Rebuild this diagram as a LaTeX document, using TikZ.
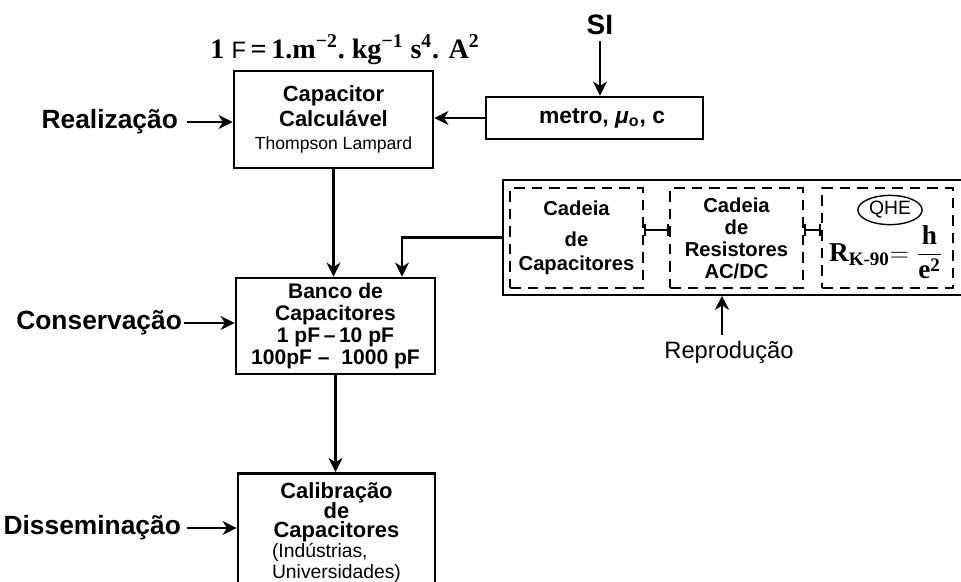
\documentclass[tikz,border=0pt]{standalone}
\usepackage{amsmath}
\usepackage{fontspec}
\setmainfont{Liberation Sans}
\newfontfamily\frm{Liberation Serif}
\newfontfamily\sns{Liberation Sans}
\usetikzlibrary{arrows.meta,shapes.geometric,positioning}

\begin{document}
\begin{tikzpicture}[x=0.02cm, y=-0.02cm,
    blk/.style={draw, line width=1.6pt, align=center, inner sep=2pt, font=\bfseries\fontsize{12.5}{14}\selectfont},
    dblk/.style={draw, line width=1.5pt, dash pattern=on 6pt off 4pt, align=center, inner sep=2pt, minimum height=2cm, font=\bfseries\fontsize{11.5}{12.5}\selectfont},
    arr/.style={-{Stealth[length=8pt, width=8pt, inset=2.5pt]}, line width=1.2pt},
    tie/.style={{Bar[width=7pt]}-{Bar[width=7pt]}, line width=1.2pt},
    lbl/.style={font=\bfseries\fontsize{15}{17}\selectfont, inner sep=1pt}
]
\useasboundingbox (0,0) rectangle (961,582);
\clip (0,0) rectangle (961,582);

% left column
\node[blk, minimum width=3.98cm, minimum height=1.94cm] (calc) at (333.5,119.5)
  {Capacitor\\Calculável\\[-1pt]{\mdseries\fontsize{10}{12}\selectfont Thompson Lampard}};
\node[blk, minimum width=3.98cm, minimum height=1.92cm, font=\bfseries\fontsize{12}{12.5}\selectfont] (banco) at (335.5,326)
  {Banco de\\Capacitores\\1 pF\,–\,10 pF\\100pF –\ \ 1000 pF};
\node[blk, anchor=north, minimum width=3.94cm, inner ysep=5pt, font=\bfseries\fontsize{12.5}{12.5}\selectfont] (calib) at (336.5,472)
  {Calibração\\[-1pt]de\\[-1.5pt]Capacitores\\[-1pt]%
   {\mdseries\fontsize{11}{12.5}\selectfont\makebox[2.58cm][l]{(Indústrias,}}\\[-0.5pt]%
   {\mdseries\fontsize{11}{12.5}\selectfont\makebox[2.58cm][l]{Universidades)}}};

\node[lbl, anchor=east] (realiz) at (180,122) {Realização};
\node[lbl, anchor=east] (conserv) at (184,323) {Conservação};
\node[lbl, anchor=east] (dissem) at (183,528) {Disseminação};

% top right
\node[font=\frm\bfseries\fontsize{16}{18}\selectfont] (unit) at (345,50)
  {1 {\sns\mdseries\fontsize{13.5}{15}\selectfont F}\,=\,1.m\textsuperscript{−2}.\ kg\textsuperscript{−1} s\textsuperscript{4}. A\textsuperscript{2}};
\node[font=\bfseries\fontsize{16}{18}\selectfont] (si) at (600,25) {SI};
\node[blk, minimum width=4.34cm, minimum height=0.84cm, font=\bfseries\fontsize{13}{15}\selectfont] (metro) at (594.5,118) {\hspace{0.3cm}metro, \textit{μ}\textsubscript{o}, c};

% reproduction chain
\node[draw, line width=0.9pt, anchor=west, minimum width=9.5cm, minimum height=2.3cm] (repbox) at (502,237.5) {};
\node[dblk, minimum width=2.66cm] (cadcap) at (576.5,238) {Cadeia\\[5pt]de\\[1.5pt]Capacitores};
\node[dblk, minimum width=2.66cm] (cadres) at (736.5,238) {Cadeia\\de\\Resistores\\AC/DC};
\node[dblk, minimum width=2.62cm] (qhebox) at (887.5,238) {};
\node[ellipse, draw, line width=0.8pt, inner sep=1pt, minimum width=1.2cm, minimum height=0.42cm, font=\fontsize{11}{13}\selectfont] (qhe) at (890,210) {QHE};
\node[font=\frm\bfseries\fontsize{15.5}{17}\selectfont, inner sep=0pt] (rk) at (886,252)
  {R\textsubscript{K-90}$=\dfrac{\text{h}}{\text{e}^{\text{2}}}$};
\node[font=\fontsize{13.5}{16}\selectfont] (reprod) at (729,352) {Reprodução};
\coordinate (rp) at ([xshift=-0.14cm]reprod.north);

% connectors
\draw[arr, shorten <=4pt] (realiz.east) -- (realiz.east -| calc.west);
\draw[arr] (conserv.east) -- (conserv.east -| banco.west);
\draw[arr, shorten <=2pt] (dissem.east) -- (dissem.east -| calib.west);
\draw[arr] (si) -- (si |- metro.north);
\draw[arr] (metro.west) -- (metro.west -| calc.east);
\draw[arr] (calc.south) -- (calc.south |- banco.north);
\draw[arr] (repbox.west) -| ([xshift=1.33cm]banco.north);
\draw[arr] (banco.south) -- (banco.south |- calib.north);
\draw[arr] (rp) -- (rp |- repbox.south);
\draw[tie] ([yshift=0.16cm]cadcap.east) -- ([yshift=0.16cm]cadres.west);
\draw[tie] ([yshift=0.16cm]cadres.east) -- ([yshift=0.16cm]qhebox.west);
\end{tikzpicture}
\end{document}
